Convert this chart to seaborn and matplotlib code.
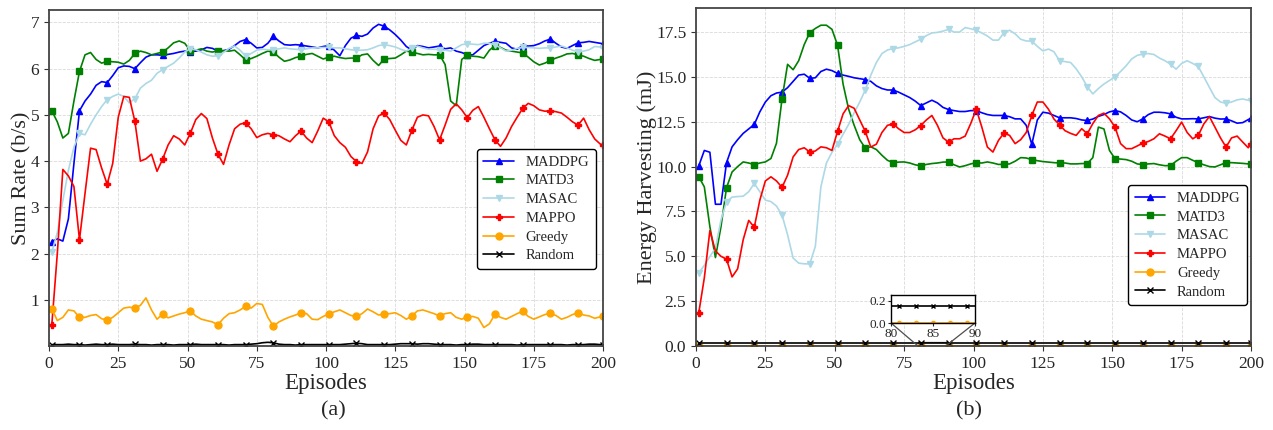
import matplotlib
matplotlib.use("Agg")
import matplotlib.pyplot as plt
import seaborn as sns
import pandas as pd
from mpl_toolkits.axes_grid1.inset_locator import mark_inset

# ---------------- data ----------------
episodes = list(range(1, 200, 2)) + [200]
methods = ["MADDPG", "MATD3", "MASAC", "MAPPO", "Greedy", "Random"]

rate_maddpg = [
    2.26, 2.32, 2.27, 2.75, 3.95, 5.09, 5.30, 5.45, 5.64, 5.72,
    5.70, 5.85, 6.02, 6.06, 6.05, 6.00, 6.13, 6.25, 6.30, 6.30,
    6.29, 6.31, 6.33, 6.36, 6.38, 6.37, 6.38, 6.41, 6.46, 6.44,
    6.38, 6.39, 6.42, 6.50, 6.59, 6.63, 6.55, 6.45, 6.46, 6.55,
    6.70, 6.60, 6.52, 6.51, 6.52, 6.51, 6.49, 6.47, 6.45, 6.48,
    6.50, 6.40, 6.28, 6.50, 6.66, 6.72, 6.70, 6.75, 6.88, 6.96,
    6.92, 6.84, 6.74, 6.62, 6.48, 6.40, 6.50, 6.48, 6.45, 6.47,
    6.49, 6.43, 6.45, 6.38, 6.35, 6.30, 6.30, 6.40, 6.50, 6.55,
    6.59, 6.57, 6.55, 6.45, 6.42, 6.50, 6.49, 6.50, 6.54, 6.60,
    6.64, 6.55, 6.47, 6.44, 6.50, 6.56, 6.57, 6.59, 6.57, 6.55,
    6.54]
rate_matd3 = [
    5.09, 4.85, 4.50, 4.60, 5.30, 5.94, 6.30, 6.35, 6.20, 6.12,
    6.16, 6.15, 6.14, 6.10, 6.18, 6.33, 6.38, 6.35, 6.30, 6.33,
    6.36, 6.45, 6.56, 6.60, 6.55, 6.39, 6.40, 6.43, 6.38, 6.36,
    6.39, 6.39, 6.38, 6.40, 6.30, 6.19, 6.22, 6.27, 6.33, 6.38,
    6.36, 6.25, 6.16, 6.19, 6.24, 6.27, 6.31, 6.33, 6.27, 6.21,
    6.25, 6.27, 6.24, 6.22, 6.23, 6.23, 6.30, 6.32, 6.18, 6.07,
    6.21, 6.22, 6.23, 6.30, 6.38, 6.36, 6.33, 6.30, 6.31, 6.30,
    6.30, 6.09, 5.30, 5.20, 6.20, 6.29, 6.27, 6.26, 6.23, 6.40,
    6.50, 6.46, 6.40, 6.38, 6.36, 6.34, 6.25, 6.15, 6.08, 6.12,
    6.18, 6.23, 6.27, 6.32, 6.33, 6.30, 6.27, 6.22, 6.18, 6.20,
    6.21]
rate_masac = [
    2.03, 2.45, 3.15, 3.80, 4.30, 4.60, 4.57, 4.80, 5.00, 5.18,
    5.33, 5.40, 5.45, 5.40, 5.26, 5.35, 5.58, 5.68, 5.75, 5.90,
    5.98, 6.05, 6.12, 6.23, 6.36, 6.43, 6.41, 6.36, 6.30, 6.27,
    6.28, 6.35, 6.44, 6.49, 6.40, 6.27, 6.33, 6.40, 6.42, 6.41,
    6.41, 6.43, 6.45, 6.43, 6.42, 6.41, 6.43, 6.45, 6.45, 6.46,
    6.46, 6.45, 6.45, 6.43, 6.41, 6.40, 6.40, 6.41, 6.45, 6.50,
    6.52, 6.50, 6.47, 6.42, 6.38, 6.45, 6.49, 6.45, 6.42, 6.42,
    6.41, 6.40, 6.38, 6.45, 6.52, 6.54, 6.53, 6.52, 6.55, 6.55,
    6.52, 6.45, 6.38, 6.40, 6.44, 6.46, 6.46, 6.45, 6.44, 6.45,
    6.45, 6.47, 6.49, 6.45, 6.40, 6.36, 6.38, 6.41, 6.48, 6.47,
    6.45]
rate_mappo = [
    0.45, 2.00, 3.82, 3.68, 3.45, 2.30, 3.30, 4.28, 4.25, 3.85,
    3.50, 3.95, 4.95, 5.40, 5.38, 4.86, 4.00, 4.05, 4.15, 3.78,
    4.04, 4.35, 4.55, 4.48, 4.35, 4.60, 4.90, 5.03, 4.92, 4.50,
    4.15, 3.93, 4.35, 4.70, 4.80, 4.83, 4.70, 4.51, 4.57, 4.60,
    4.57, 4.55, 4.48, 4.42, 4.55, 4.65, 4.50, 4.40, 4.65, 4.93,
    4.85, 4.55, 4.40, 4.30, 4.10, 3.99, 3.95, 4.20, 4.70, 4.98,
    5.04, 4.90, 4.67, 4.45, 4.35, 4.67, 4.95, 5.00, 4.98, 4.75,
    4.46, 4.78, 5.12, 5.24, 5.11, 4.94, 5.10, 5.18, 4.95, 4.70,
    4.46, 4.32, 4.50, 4.75, 4.95, 5.14, 5.25, 5.20, 5.11, 5.08,
    5.09, 5.07, 5.04, 4.95, 4.85, 4.78, 4.93, 4.68, 4.48, 4.37,
    4.35]
rate_greedy = [
    0.81, 0.55, 0.62, 0.78, 0.76, 0.62, 0.62, 0.66, 0.68, 0.59,
    0.56, 0.62, 0.72, 0.82, 0.84, 0.82, 0.88, 1.04, 0.78, 0.58,
    0.69, 0.61, 0.65, 0.69, 0.72, 0.76, 0.65, 0.58, 0.55, 0.52,
    0.46, 0.60, 0.70, 0.72, 0.78, 0.86, 0.82, 0.92, 0.90, 0.62,
    0.43, 0.52, 0.58, 0.63, 0.67, 0.72, 0.70, 0.58, 0.57, 0.64,
    0.69, 0.74, 0.78, 0.72, 0.66, 0.64, 0.70, 0.80, 0.74, 0.67,
    0.69, 0.70, 0.72, 0.66, 0.58, 0.65, 0.76, 0.78, 0.74, 0.70,
    0.65, 0.70, 0.72, 0.62, 0.58, 0.63, 0.64, 0.60, 0.40, 0.48,
    0.69, 0.62, 0.58, 0.64, 0.70, 0.75, 0.64, 0.58, 0.63, 0.68,
    0.71, 0.66, 0.58, 0.62, 0.68, 0.72, 0.67, 0.65, 0.60, 0.63,
    0.65]
rate_random = [
    0.03, 0.03, 0.03, 0.04, 0.03, 0.03, 0.02, 0.03, 0.04, 0.03,
    0.03, 0.04, 0.03, 0.03, 0.03, 0.04, 0.03, 0.03, 0.02, 0.03,
    0.03, 0.03, 0.02, 0.03, 0.03, 0.03, 0.04, 0.03, 0.03, 0.03,
    0.03, 0.03, 0.02, 0.03, 0.03, 0.03, 0.04, 0.05, 0.07, 0.08,
    0.07, 0.04, 0.03, 0.03, 0.02, 0.03, 0.03, 0.03, 0.03, 0.03,
    0.03, 0.03, 0.03, 0.04, 0.05, 0.06, 0.05, 0.03, 0.03, 0.03,
    0.03, 0.03, 0.04, 0.05, 0.05, 0.05, 0.04, 0.05, 0.05, 0.04,
    0.03, 0.03, 0.03, 0.02, 0.03, 0.03, 0.04, 0.04, 0.03, 0.03,
    0.03, 0.03, 0.03, 0.03, 0.02, 0.03, 0.03, 0.03, 0.03, 0.03,
    0.03, 0.03, 0.03, 0.02, 0.03, 0.03, 0.03, 0.04, 0.04, 0.03,
    0.03]

eh_maddpg = [
    10.04, 10.90, 10.80, 7.90, 7.90, 10.22, 11.10, 11.50, 11.85, 12.10,
    12.35, 13.05, 13.60, 13.95, 14.10, 14.15, 14.40, 14.75, 15.10, 15.15,
    14.92, 14.95, 15.30, 15.43, 15.35, 15.19, 15.10, 15.03, 14.95, 14.90,
    14.85, 14.75, 14.50, 14.35, 14.27, 14.27, 14.15, 14.00, 13.85, 13.65,
    13.40, 13.55, 13.70, 13.55, 13.30, 13.18, 13.12, 13.07, 13.07, 13.12,
    13.12, 13.00, 12.90, 12.85, 12.85, 12.85, 12.78, 12.66, 12.66, 12.30,
    11.24, 12.60, 13.03, 12.98, 12.85, 12.72, 12.72, 12.72, 12.68, 12.60,
    12.57, 12.65, 12.80, 12.90, 13.05, 13.12, 13.05, 12.85, 12.60, 12.50,
    12.66, 12.90, 13.03, 13.03, 13.00, 12.94, 12.75, 12.66, 12.66, 12.67,
    12.66, 12.72, 12.79, 12.70, 12.65, 12.66, 12.55, 12.42, 12.45, 12.62,
    12.70]
eh_matd3 = [
    9.43, 8.87, 6.65, 4.93, 6.65, 8.82, 9.70, 10.00, 10.26, 10.20,
    10.11, 10.20, 10.26, 10.45, 11.30, 13.77, 15.70, 15.40, 15.90, 16.80,
    17.47, 17.70, 17.88, 17.88, 17.65, 16.77, 14.60, 13.20, 12.30, 11.50,
    11.03, 11.10, 10.95, 10.63, 10.35, 10.22, 10.25, 10.26, 10.20, 10.10,
    10.04, 10.12, 10.17, 10.20, 10.25, 10.26, 10.10, 9.98, 10.05, 10.15,
    10.22, 10.20, 10.26, 10.20, 10.12, 10.13, 10.15, 10.30, 10.50, 10.48,
    10.39, 10.33, 10.28, 10.25, 10.22, 10.20, 10.20, 10.15, 10.15, 10.17,
    10.17, 10.50, 12.20, 12.10, 10.90, 10.44, 10.42, 10.39, 10.30, 10.15,
    10.11, 10.15, 10.17, 10.10, 10.05, 10.06, 10.30, 10.50, 10.50, 10.35,
    10.22, 10.10, 10.00, 9.98, 10.10, 10.22, 10.22, 10.20, 10.18, 10.15,
    10.17]
eh_masac = [
    4.07, 4.50, 4.99, 5.45, 7.02, 8.04, 8.30, 8.33, 8.35, 8.60,
    9.06, 8.60, 8.13, 8.05, 7.80, 7.30, 6.20, 4.90, 4.62, 4.58,
    4.58, 5.55, 8.87, 10.20, 10.80, 11.24, 11.80, 12.35, 13.00, 13.60,
    14.27, 15.10, 15.80, 16.30, 16.50, 16.58, 16.62, 16.70, 16.80, 16.95,
    17.10, 17.30, 17.45, 17.48, 17.55, 17.65, 17.50, 17.50, 17.75, 17.68,
    17.60, 17.45, 17.28, 17.05, 17.05, 17.47, 17.60, 17.40, 17.10, 17.00,
    17.00, 16.70, 16.45, 16.55, 16.40, 15.90, 15.85, 15.80, 15.45, 15.00,
    14.45, 14.05, 14.35, 14.60, 14.80, 15.00, 15.30, 15.62, 16.00, 16.20,
    16.27, 16.30, 16.25, 16.05, 15.90, 15.71, 15.43, 15.75, 15.90, 15.75,
    15.58, 15.00, 14.42, 13.85, 13.60, 13.53, 13.60, 13.72, 13.77, 13.70,
    13.68]
eh_mappo = [
    1.85, 3.80, 6.43, 5.30, 5.00, 4.84, 3.85, 4.30, 5.92, 7.00,
    6.62, 8.13, 9.20, 9.43, 9.20, 8.84, 9.52, 10.54, 10.95, 11.05,
    10.81, 10.87, 11.10, 11.05, 10.90, 11.96, 12.94, 13.40, 13.25, 12.60,
    11.96, 11.09, 11.25, 11.90, 12.30, 12.38, 12.11, 11.90, 11.90, 12.05,
    12.29, 12.60, 12.85, 12.30, 11.60, 11.37, 11.55, 11.55, 11.70, 12.40,
    13.20, 12.20, 11.09, 10.81, 11.46, 11.87, 11.74, 11.28, 11.50, 11.90,
    12.85, 13.60, 13.60, 13.20, 12.65, 12.33, 12.00, 11.85, 11.74, 12.11,
    11.83, 12.40, 12.85, 12.98, 12.66, 12.20, 11.28, 11.00, 11.00, 11.15,
    11.31, 11.40, 11.55, 11.83, 11.70, 11.55, 12.00, 12.48, 11.90, 11.55,
    11.74, 12.38, 12.79, 12.20, 11.60, 11.09, 11.60, 11.70, 11.37, 11.05,
    11.28]
eh_greedy = [0.0] * len(episodes)
eh_random = [0.15] * len(episodes)

rate_series = [rate_maddpg, rate_matd3, rate_masac, rate_mappo, rate_greedy, rate_random]
eh_series = [eh_maddpg, eh_matd3, eh_masac, eh_mappo, eh_greedy, eh_random]

colors = {"MADDPG": "#0000ff", "MATD3": "#008000", "MASAC": "#add8e6",
          "MAPPO": "#ff0000", "Greedy": "#ffa500", "Random": "#000000"}
markers = {"MADDPG": "^", "MATD3": "s", "MASAC": "v",
           "MAPPO": "P", "Greedy": "o", "Random": "x"}

# ---------------- style ----------------
sns.set_style("ticks")
plt.rcParams['font.family'] = ['Liberation Serif', 'DejaVu Serif']
plt.rcParams['mathtext.fontset'] = 'stix'

W, H = 1273, 430
fig = plt.figure(figsize=(W / 100, H / 100), dpi=100)
ax1 = fig.add_axes([49 / W, 1 - 346 / H, 554 / W, 336 / H])
ax2 = fig.add_axes([696 / W, 1 - 346 / H, 555 / W, 338 / H])


def draw(ax, names, series, every=5, ms=5, lw=1.2, labels=True):
    for name, vals in zip(names, series):
        df = pd.DataFrame({"Episodes": episodes, "value": vals})
        sns.lineplot(data=df, x="Episodes", y="value", ax=ax, color=colors[name],
                     marker=markers[name], markevery=every, markersize=ms,
                     markeredgecolor=colors[name], markeredgewidth=1.0,
                     linewidth=lw, label=name if labels else None,
                     estimator=None, sort=False)


def style(ax, ylabel, yticks, ylim, legend_anchor, label_x):
    ax.set_xlim(0, 200)
    ax.set_ylim(*ylim)
    ax.set_xticks(range(0, 201, 25))
    ax.set_yticks(yticks)
    ax.tick_params(labelsize=12.5, length=3.5, width=0.8, color="#333333")
    ax.set_xlabel("Episodes", fontsize=16.5, labelpad=1)
    ax.set_ylabel(ylabel, fontsize=16)
    ax.yaxis.set_label_coords(label_x, 0.5)
    ax.grid(True, color="#d9d9d9", linestyle="--", linewidth=0.6)
    for s in ax.spines.values():
        s.set_color("#444444")
        s.set_linewidth(1.3)
    leg = ax.legend(loc="lower right", bbox_to_anchor=legend_anchor,
                    fontsize=10.5, frameon=True, fancybox=True,
                    edgecolor="black", framealpha=1, labelspacing=0.38,
                    handlelength=2.1, borderaxespad=0, borderpad=0.45)
    leg.get_frame().set_linewidth(1.0)


draw(ax1, methods, rate_series)
style(ax1, "Sum Rate (b/s)", [1, 2, 3, 4, 5, 6, 7], (0, 7.27), (0.987, 0.229), -0.031)
ax1.set_yticklabels([str(v) for v in [1, 2, 3, 4, 5, 6, 7]])

draw(ax2, methods, eh_series)
style(ax2, "Energy Harvesting (mJ)", [0, 2.5, 5, 7.5, 10, 12.5, 15, 17.5],
      (0, 18.84), (0.993, 0.121), -0.071)
ax2.set_yticklabels(["0.0", "2.5", "5.0", "7.5", "10.0", "12.5", "15.0", "17.5"])

# inset on panel (b)
axins = fig.add_axes([891 / W, 1 - 323 / H, 84 / W, 28 / H])
draw(axins, ["Greedy", "Random"], [eh_greedy, eh_random], every=1, ms=3, lw=1.2,
     labels=False)
axins.set_xlim(80, 90)
axins.set_ylim(0, 0.25)
axins.set_xticks([80, 85, 90])
axins.set_yticks([0.0, 0.2])
axins.set_yticklabels(["0.0", "0.2"])
axins.set_xlabel("")
axins.set_ylabel("")
axins.tick_params(labelsize=9.5, length=2.5, pad=1)
for s in axins.spines.values():
    s.set_color("black")
    s.set_linewidth(1.0)
mark_inset(ax2, axins, loc1=3, loc2=4, fc="none", ec="0.3", lw=0.9)

fig.text(333 / W, 1 - 411 / H, "(a)", ha="center", va="center", fontsize=16)
fig.text(969 / W, 1 - 411 / H, "(b)", ha="center", va="center", fontsize=16)

fig.savefig("out.png", dpi=100)
